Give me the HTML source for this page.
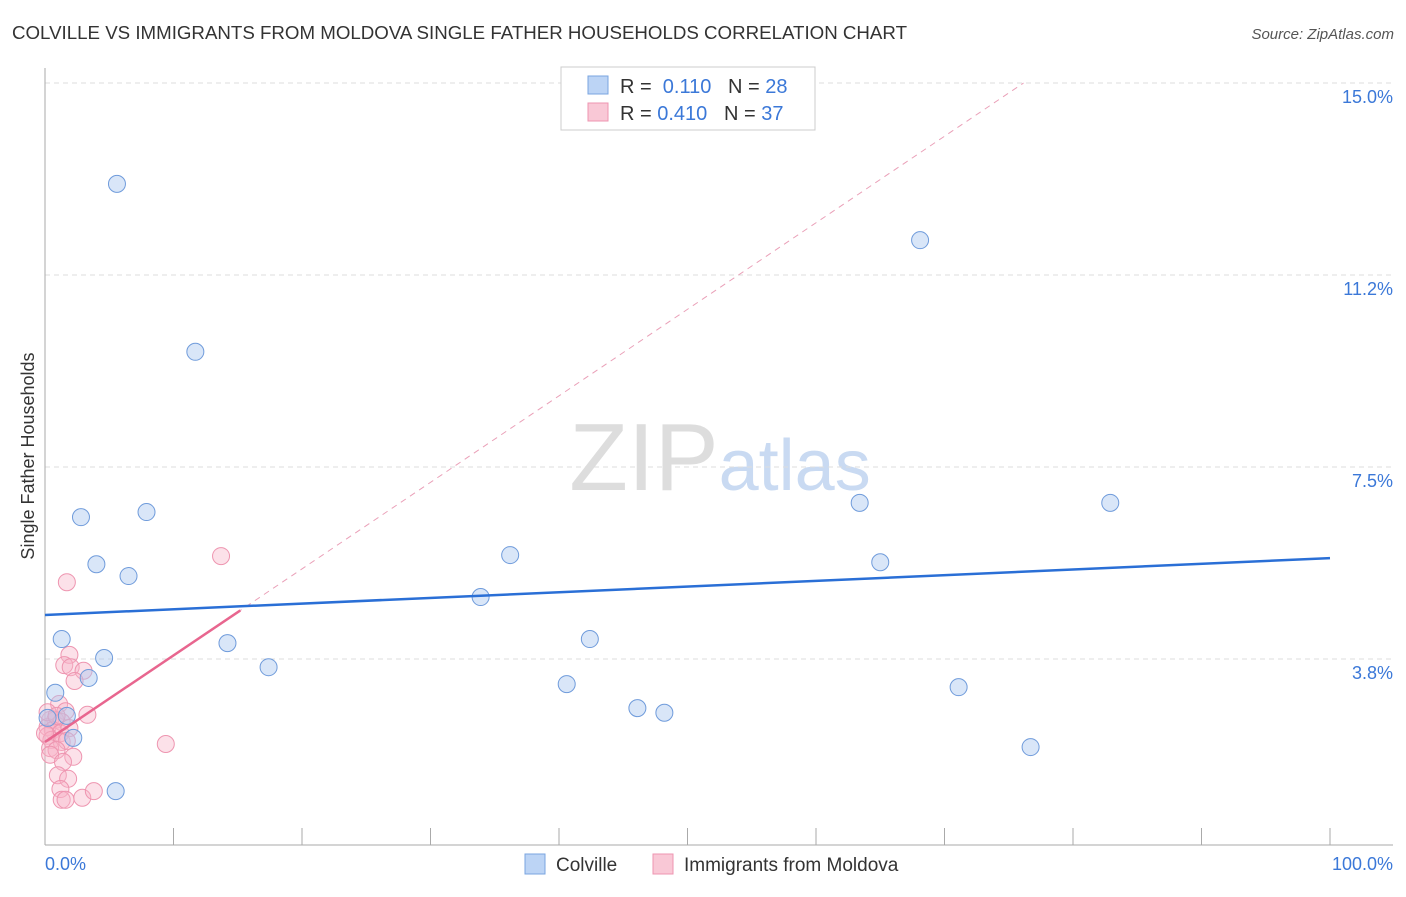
<!DOCTYPE html>
<html><head><meta charset="utf-8"><style>
body{margin:0;background:#fff;font-family:"Liberation Sans",sans-serif;}
svg text{font-family:"Liberation Sans",sans-serif;}
</style></head><body>
<svg id="chart" width="1406" height="892" xmlns="http://www.w3.org/2000/svg">
<text x="12" y="39" font-size="18" fill="#333" textLength="895" lengthAdjust="spacingAndGlyphs">COLVILLE VS IMMIGRANTS FROM MOLDOVA SINGLE FATHER HOUSEHOLDS CORRELATION CHART</text>
<text x="1394" y="39" font-size="15" fill="#555" font-style="italic" text-anchor="end">Source: ZipAtlas.com</text>
<text x="720" y="490" font-size="96" text-anchor="middle" fill="#ddd" font-family="Liberation Serif">ZIP<tspan fill="#c9daf2" font-family="Liberation Sans" font-size="72">atlas</tspan></text>
<text transform="translate(34,456) rotate(-90)" font-size="18" fill="#333" text-anchor="middle">Single Father Households</text>
<g id="grid"></g><g id="axes"></g><g id="marks"></g>
<g>
<rect x="561" y="67" width="254" height="63" fill="#fff" stroke="#ccc"/>
<rect x="588" y="76" width="20" height="18" fill="#bcd4f5" stroke="#7aa5e0"/>
<text x="620" y="93" font-size="20" fill="#333">R = <tspan fill="#3b78d8">&#160;0.110</tspan>&#160;&#160;&#160;N = <tspan fill="#3b78d8">28</tspan></text>
<rect x="588" y="103" width="20" height="18" fill="#f9c8d6" stroke="#ee95b0"/>
<text x="620" y="120" font-size="20" fill="#333">R = <tspan fill="#3b78d8">0.410</tspan>&#160;&#160;&#160;N = <tspan fill="#3b78d8">37</tspan></text>
</g>
<g>
<rect x="525" y="854" width="20" height="20" fill="#bcd4f5" stroke="#7aa5e0"/>
<text x="556" y="871" font-size="19" fill="#333">Colville</text>
<rect x="653" y="854" width="20" height="20" fill="#f9c8d6" stroke="#ee95b0"/>
<text x="684" y="871" font-size="19" fill="#333">Immigrants from Moldova</text>
</g>
</svg>
<script>
const yTicks=[15,11.25,7.5,3.75];
const yTickLabels=["15.0%","11.2%","7.5%","3.8%"];
const xTickLabels=["0.0%","100.0%"];
const blueX=[5.6,11.7,2.8,7.9,4.0,6.5,1.3,4.6,3.4,0.8,1.7,2.2,5.5,14.2,17.4,33.9,36.2,40.6,42.4,46.1,48.2,63.4,65.0,68.1,71.1,76.7,82.9,0.2];
const blueY=[13.03,9.75,6.52,6.62,5.60,5.37,4.14,3.77,3.38,3.09,2.64,2.21,1.17,4.06,3.59,4.96,5.78,3.26,4.14,2.79,2.70,6.80,5.64,11.93,3.20,2.03,6.80,2.60];
const pinkX=[13.7,1.7,1.9,1.5,2.0,3.0,2.3,1.1,1.6,3.3,0.4,0.8,1.3,0.2,0.6,1.2,1.9,0.2,0.5,1.3,1.7,0.4,0.9,2.2,0.4,1.4,1.0,1.8,1.2,1.3,1.6,2.9,3.8,9.4,0.2,0.9,0.0];
const pinkY=[5.76,5.25,3.83,3.63,3.59,3.52,3.32,2.87,2.73,2.66,2.56,2.56,2.52,2.42,2.36,2.30,2.40,2.25,2.17,2.13,2.15,2.01,1.97,1.84,1.88,1.74,1.48,1.41,1.21,1.00,1.00,1.04,1.17,2.09,2.71,2.64,2.30];
const blueTrend=[4.61,5.72];
const pinkTrend=[2.13,0.169];
const NS="http://www.w3.org/2000/svg";
const X=v=>45+v*12.85, Y=v=>851-v*51.2;
function mk(p,t,a){const e=document.createElementNS(NS,t);for(const k in a)e.setAttribute(k,a[k]);document.getElementById(p).appendChild(e);return e;}
yTicks.forEach((t,i)=>{
 const l=mk('grid','line',{x1:45,x2:1393,y1:Y(t),y2:Y(t),stroke:'#ddd','stroke-dasharray':'5,4'});
 
 
 const tx=mk('grid','text',{x:1393,y:Y(t)+20,'font-size':18,fill:'#3b78d8','text-anchor':'end'});
 tx.textContent=yTickLabels[i];
 
 
});
mk('axes','line',{x1:45,x2:45,y1:68,y2:845,stroke:'#aaa'});
mk('axes','line',{x1:45,x2:1393,y1:845,y2:845,stroke:'#aaa'});
for(let i=0;i<=10;i++){const l=mk('axes','line',{x1:X(i*10),x2:X(i*10),y1:828,y2:845,stroke:'#aaa'});
 
 }
[[0,'start',45],[100,'end',1393]].forEach((d,i)=>{const t=mk('axes','text',{x:d[2],y:870,'font-size':18,fill:'#3b78d8','text-anchor':d[1]});t.textContent=xTickLabels[i];
 
 });
const pEnd=(15-pinkTrend[0])/pinkTrend[1];
const pd=mk('marks','line',{x1:X(0),y1:Y(pinkTrend[0]),x2:X(pEnd),y2:Y(15),stroke:'#eaa0b8','stroke-dasharray':'6,5','stroke-width':1});


pinkX.forEach((x,i)=>{const c=mk('marks','circle',{cx:X(x),cy:Y(pinkY[i]),r:8.5,fill:'rgba(248,180,200,0.4)',stroke:'#ee95b0','stroke-width':1});
 
 });
blueX.forEach((x,i)=>{const c=mk('marks','circle',{cx:X(x),cy:Y(blueY[i]),r:8.5,fill:'rgba(170,200,240,0.45)',stroke:'#6f9bdb','stroke-width':1});
 
 });
const bt=mk('marks','line',{x1:X(0),y1:Y(blueTrend[0]),x2:X(100),y2:Y(blueTrend[1]),stroke:'#2a6fd6','stroke-width':2.5});


const pt=mk('marks','line',{x1:X(0),y1:Y(pinkTrend[0]),x2:X(15.2),y2:Y(pinkTrend[0]+pinkTrend[1]*15.2),stroke:'#e8668f','stroke-width':2.5});


</script>
</body></html>
